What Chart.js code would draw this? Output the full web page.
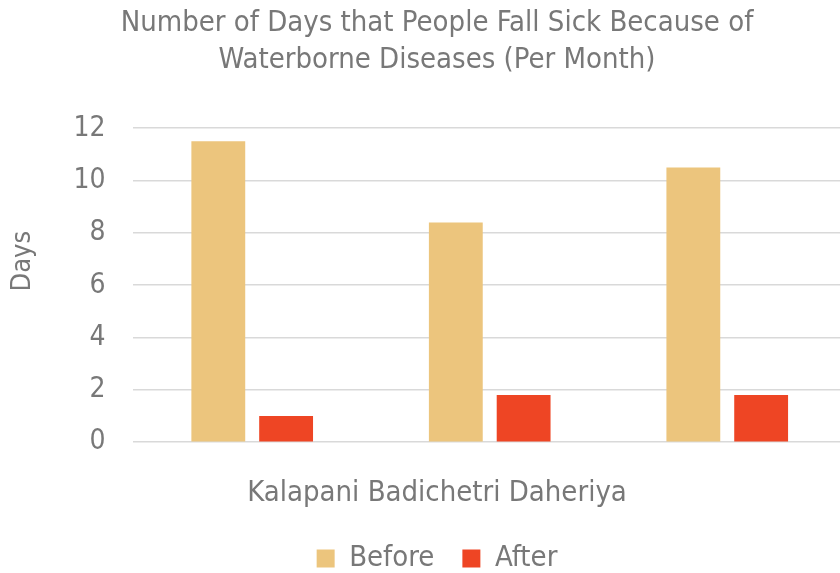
<!DOCTYPE html>
<html>
<head>
<meta charset="utf-8">
<script src="https://cdn.jsdelivr.net/npm/chart.js@4"></script>
<style>
html,body{margin:0;padding:0;background:#fff;overflow:hidden;width:840px;height:573px;}
#wrap{width:874px;height:583px;}
</style>
</head>
<body>
<div id="wrap"><canvas id="c" width="874" height="583"></canvas></div>
<script>
const titleLines = ["Number of Days that People Fall Sick Because of", "Waterborne Diseases (Per Month)"];
const categories = ["Kalapani", "Badichetri", "Daheriya"];
const seriesNames = ["Before", "After"];
const beforeValues = [11.5, 8.4, 10.5];
const afterValues = [1.0, 1.8, 1.8];
const yTicks = [0, 2, 4, 6, 8, 10, 12];
const yAxisTitle = "Days";

const FONT = "'DejaVu Sans Condensed', 'DejaVu Sans', sans-serif";
const GREY = "#787878";

// Draws the y-axis title a little above the plot centre, as in the reference.
const yTitlePlugin = {
  id: 'yTitleShift',
  afterDraw(chart) {
    const s = chart.scales.y;
    const t = s.options.title;
    const ctx = chart.ctx;
    const lh = t.font.size * 1.2;
    const x = s.left + t.padding.top + lh / 2;
    const y = (chart.chartArea.top + chart.chartArea.bottom) / 2 - 24;
    ctx.save();
    ctx.translate(x, y);
    ctx.rotate(-Math.PI / 2);
    ctx.fillStyle = GREY;
    ctx.font = t.font.size + 'px ' + FONT;
    ctx.textAlign = 'center';
    ctx.textBaseline = 'middle';
    ctx.fillText(yAxisTitle, 0, 0);
    ctx.restore();
  }
};

new Chart(document.getElementById('c'), {
  type: 'bar',
  data: {
    labels: categories,
    datasets: [
      { label: seriesNames[0], data: beforeValues, backgroundColor: '#ECC57D', borderWidth: 0,
        categoryPercentage: 0.571, barPercentage: 0.794 },
      { label: seriesNames[1], data: afterValues, backgroundColor: '#EE4524', borderWidth: 0,
        categoryPercentage: 0.571, barPercentage: 0.794 }
    ]
  },
  plugins: [yTitlePlugin],
  options: {
    responsive: false,
    animation: false,
    events: [],
    layout: { padding: { left: 28, right: 28, top: 0, bottom: 0 } },
    scales: {
      x: {
        grid: { display: false },
        border: { display: false },
        ticks: { display: false }
      },
      y: {
        min: yTicks[0],
        max: yTicks[yTicks.length - 1],
        afterBuildTicks: (axis) => { axis.ticks = yTicks.map(v => ({ value: v })); },
        grid: { color: '#d9d9d9', lineWidth: 1.5, drawTicks: false },
        border: { display: false },
        ticks: { color: GREY, font: { family: FONT, size: 28 }, padding: 28 },
        title: { display: true, text: yAxisTitle, color: 'rgba(0,0,0,0)', font: { family: FONT, size: 27 }, padding: { top: -21, bottom: 6 } }
      }
    },
    plugins: {
      tooltip: { enabled: false },
      title: {
        display: true,
        text: titleLines,
        color: GREY,
        font: { family: FONT, size: 29, weight: 'normal', lineHeight: 1.28 },
        padding: { top: 5, bottom: 49 }
      },
      subtitle: {
        display: true,
        position: 'bottom',
        weight: 500,
        text: categories.join(' '),
        color: GREY,
        font: { family: FONT, size: 29, weight: 'normal' },
        padding: { top: 26, bottom: 5 }
      },
      legend: {
        position: 'bottom',
        labels: {
          color: GREY,
          font: { family: FONT, size: 29 },
          boxWidth: 18,
          boxHeight: 18,
          padding: 28
        }
      }
    }
  }
});
</script>
</body>
</html>
